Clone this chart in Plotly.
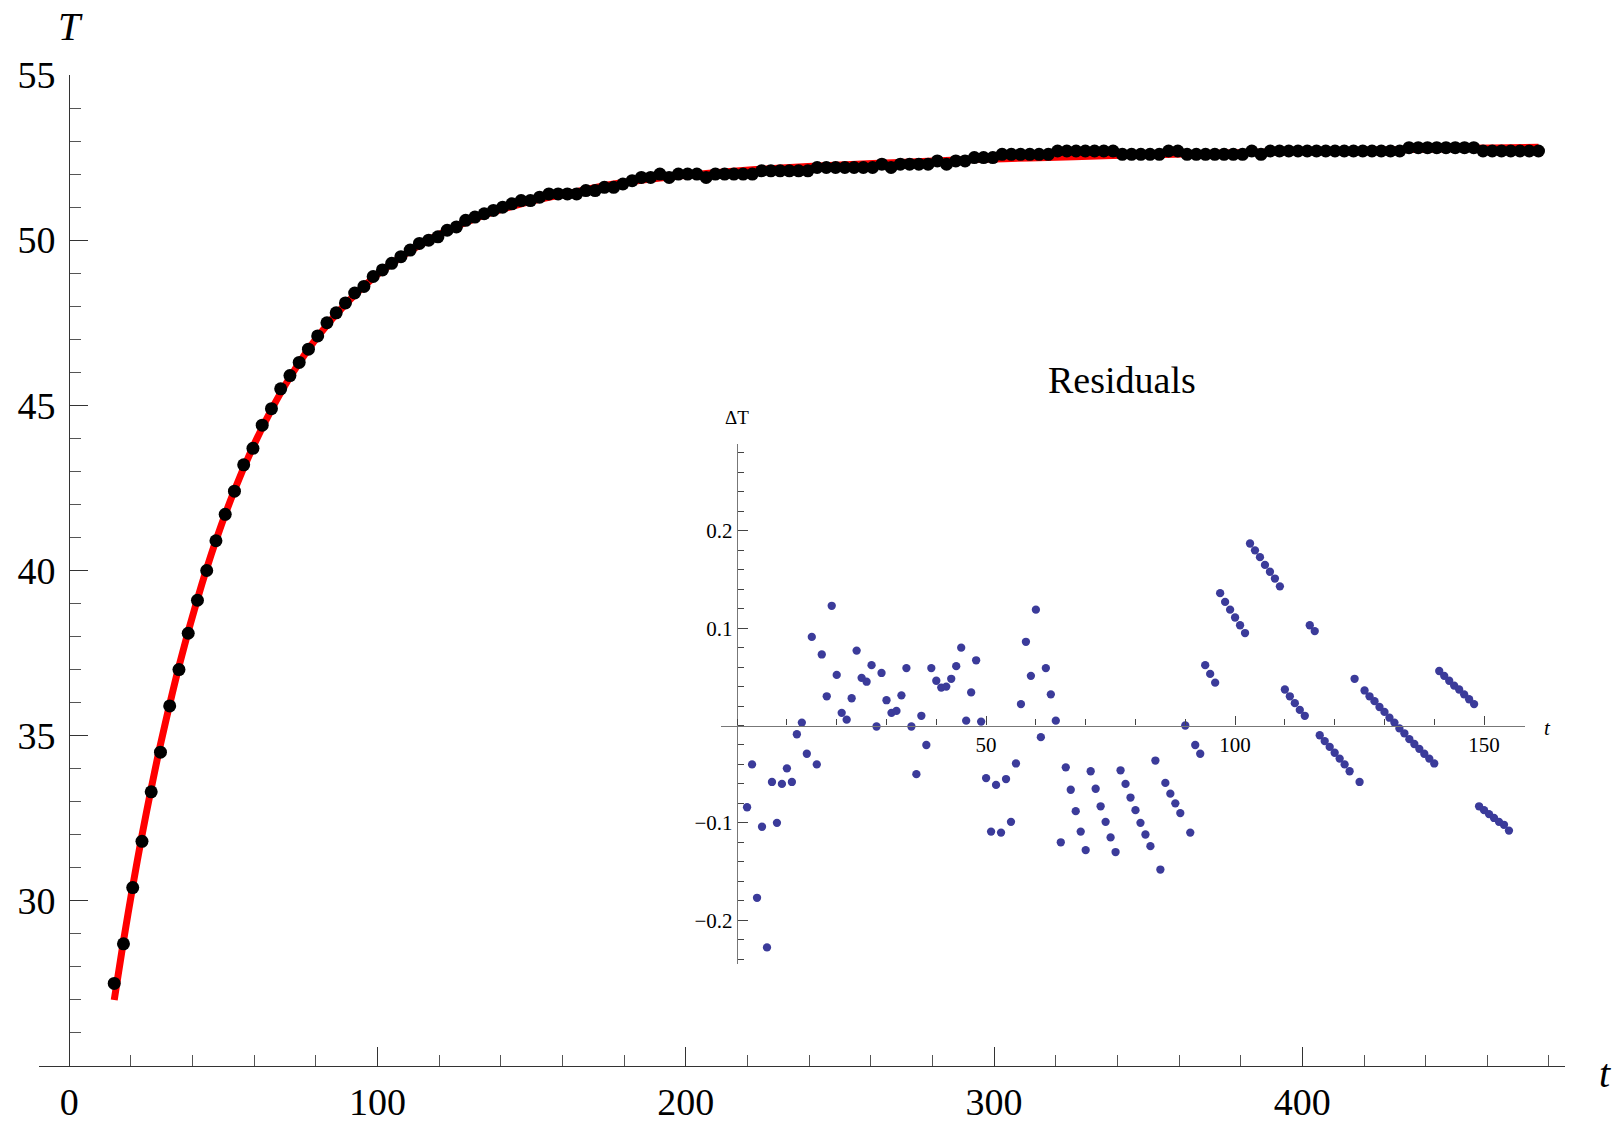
import plotly.graph_objects as go

# ---------------- data ----------------
# main measurement: sample number and temperature T
sample_no = list(range(1, 156))
t_step = 3.0
t_first = 14.6
T_data = [
    27.5, 28.7, 30.4, 31.8, 33.3, 34.5, 35.9, 37.0, 38.1, 39.1,
    40.0, 40.9, 41.7, 42.4, 43.2, 43.7, 44.4, 44.9, 45.5, 45.9,
    46.3, 46.7, 47.1, 47.5, 47.8, 48.1, 48.4, 48.6, 48.9, 49.1,
    49.3, 49.5, 49.7, 49.9, 50.0, 50.1, 50.3, 50.4, 50.6, 50.7,
    50.8, 50.9, 51.0, 51.1, 51.2, 51.2, 51.3, 51.4, 51.4, 51.4,
    51.4, 51.5, 51.5, 51.6, 51.6, 51.7, 51.8, 51.9, 51.9, 52.0,
    51.9, 52.0, 52.0, 52.0, 51.9, 52.0, 52.0, 52.0, 52.0, 52.0,
    52.1, 52.1, 52.1, 52.1, 52.1, 52.1, 52.2, 52.2, 52.2, 52.2,
    52.2, 52.2, 52.2, 52.3, 52.2, 52.3, 52.3, 52.3, 52.3, 52.4,
    52.3, 52.4, 52.4, 52.5, 52.5, 52.5, 52.6, 52.6, 52.6, 52.6,
    52.6, 52.6, 52.7, 52.7, 52.7, 52.7, 52.7, 52.7, 52.7, 52.6,
    52.6, 52.6, 52.6, 52.6, 52.7, 52.7, 52.6, 52.6, 52.6, 52.6,
    52.6, 52.6, 52.6, 52.7, 52.6, 52.7, 52.7, 52.7, 52.7, 52.7,
    52.7, 52.7, 52.7, 52.7, 52.7, 52.7, 52.7, 52.7, 52.7, 52.7,
    52.8, 52.8, 52.8, 52.8, 52.8, 52.8, 52.8, 52.8, 52.7, 52.7,
    52.7, 52.7, 52.7, 52.7, 52.7,
]
t_data = [t_first + t_step * (k - 1) for k in sample_no]

# fitted curve
fit_t = [14.6, 17.6, 20.6, 23.6, 26.6, 29.6, 35.6, 41.6, 47.6, 53.6,
         59.6, 65.6, 71.6, 80.6, 89.6, 101.6, 116.6, 131.6, 146.6, 161.6,
         176.6, 191.6, 206.6, 221.6, 239.6, 260.6, 278.6, 293.6, 311.6, 338.6,
         371.6, 401.6, 431.6, 455.6, 476.6]
fit_T = [27.0, 28.78, 30.44, 31.98, 33.40, 34.73, 37.10, 39.14, 40.91, 42.43,
         43.74, 44.87, 45.85, 47.08, 48.06, 49.08, 50.01, 50.65, 51.10, 51.41,
         51.70, 51.88, 52.02, 52.13, 52.23, 52.32, 52.39, 52.44, 52.49, 52.56,
         52.63, 52.69, 52.74, 52.78, 52.81]

# residuals (inset), index of sample
res_index = list(range(2, 156))
residuals = [
    -0.084, -0.040, -0.177, -0.104, -0.228, -0.058, -0.100, -0.060, -0.044, -0.058,
    -0.009, 0.003, -0.029, 0.091, -0.040, 0.073, 0.030, 0.123, 0.052,
    0.013, 0.006, 0.028, 0.077, 0.049, 0.045, 0.062, -0.001, 0.054, 0.026,
    0.013, 0.015, 0.031, 0.059, -0.001, -0.050, 0.010, -0.020, 0.059, 0.046,
    0.039, 0.040, 0.048, 0.061, 0.080, 0.005, 0.034, 0.067, 0.004, -0.054,
    -0.109, -0.061, -0.110, -0.055, -0.099, -0.039, 0.022, 0.086, 0.051, 0.119,
    -0.012, 0.059, 0.032, 0.005, -0.120, -0.043, -0.066, -0.088, -0.109, -0.128,
    -0.047, -0.065, -0.083, -0.099, -0.115, -0.130, -0.046, -0.060, -0.074, -0.087,
    -0.100, -0.112, -0.124, -0.036, -0.148, -0.059, -0.070, -0.080, -0.090, 0.000,
    -0.110, -0.020, -0.029, 0.062, 0.053, 0.044, 0.136, 0.127, 0.119, 0.111,
    0.103, 0.095, 0.187, 0.180, 0.173, 0.165, 0.158, 0.151, 0.143, 0.037,
    0.030, 0.023, 0.016, 0.010, 0.103, 0.097, -0.010, -0.016, -0.022, -0.028,
    -0.034, -0.040, -0.047, 0.048, -0.058, 0.036, 0.030, 0.025, 0.019, 0.014,
    0.008, 0.003, -0.003, -0.008, -0.014, -0.019, -0.024, -0.029, -0.034, -0.039,
    0.056, 0.051, 0.046, 0.041, 0.037, 0.032, 0.027, 0.022, -0.083, -0.087,
    -0.091, -0.095, -0.099, -0.102, -0.108,
]

main_xticks = [0, 100, 200, 300, 400]
main_yticks = [30, 35, 40, 45, 50, 55]
inset_xticks = [50, 100, 150]
inset_yticks = [-0.2, -0.1, 0.1, 0.2]
inset_yticktext = ["\u22120.2", "\u22120.1", "0.1", "0.2"]

# ---------------- layout geometry ----------------
W, H = 1619, 1126
OFF = 0  # body margin removed by post_script
ML, MR, MT, MB = 39.0, 54.4, 75.4, 60.0
PW = W - ML - MR
PH = H - MT - MB
FONT = "Liberation Serif"


def paper(X, Y):
    return (X - OFF - ML) / PW, (MT + PH - (Y - OFF)) / PH


fig = go.Figure()
fig.add_trace(go.Scatter(
    x=fit_t, y=fit_T, mode="lines",
    line=dict(color="#ff0000", width=7, shape="spline", smoothing=0.8),
    xaxis="x", yaxis="y", hoverinfo="skip"))
fig.add_trace(go.Scatter(
    x=t_data, y=T_data, mode="markers",
    marker=dict(color="black", size=13, line=dict(width=0)),
    xaxis="x", yaxis="y"))
fig.add_trace(go.Scatter(
    x=res_index, y=residuals, mode="markers",
    marker=dict(color="#3b3b9a", size=8.3, line=dict(width=0)),
    xaxis="x2", yaxis="y2"))

axis_col = "#333333"
inset_col = "#777777"

fig.update_layout(
    width=W, height=H, autosize=False,
    margin=dict(l=ML, r=MR, t=MT, b=MB, pad=0, autoexpand=False),
    paper_bgcolor="white", plot_bgcolor="white",
    showlegend=False,
    font=dict(family=FONT, color="black"),
    xaxis=dict(
        domain=[0, 1], range=[-9.8, 485.2], anchor="y", automargin=False,
        showline=True, linecolor=axis_col, linewidth=1,
        ticks="inside", ticklen=19, tickwidth=1, tickcolor=axis_col,
        tickmode="array", tickvals=main_xticks,
        tickfont=dict(family=FONT, size=38, color="black"),
        ticklabelstandoff=2,
        minor=dict(dtick=20, tick0=0, ticks="inside", ticklen=11,
                   tickwidth=1, tickcolor="#555555"),
        showgrid=False, zeroline=False),
    yaxis=dict(
        domain=[0, 1], range=[25, 55], anchor="free", automargin=False,
        position=(69.2 - 39) / (1564.6 - 39),
        showline=True, linecolor=axis_col, linewidth=1,
        ticks="inside", ticklen=18, tickwidth=1, tickcolor=axis_col,
        tickmode="array", tickvals=main_yticks,
        tickfont=dict(family=FONT, size=38, color="black"),
        ticklabelstandoff=6,
        minor=dict(dtick=1, tick0=0, ticks="inside", ticklen=11,
                   tickwidth=1, tickcolor="#555555"),
        showgrid=False, zeroline=False),
    xaxis2=dict(
        domain=[paper(721, 0)[0], paper(1525, 0)[0]], range=[-3.2, 158.3],
        anchor="free", position=paper(0, 725.7)[1], automargin=False,
        showline=True, linecolor=inset_col, linewidth=1.3,
        ticks="inside", ticklen=9, tickwidth=1, tickcolor="#444444",
        tickmode="array", tickvals=inset_xticks,
        tickfont=dict(family=FONT, size=21, color="black"),
        minor=dict(dtick=10, tick0=0, ticks="inside", ticklen=6,
                   tickwidth=1, tickcolor="#444444"),
        showgrid=False, zeroline=False),
    yaxis2=dict(
        domain=[paper(0, 964)[1], paper(0, 444)[1]], range=[-0.245, 0.2895],
        anchor="free", position=paper(736.7, 0)[0], automargin=False,
        showline=True, linecolor=inset_col, linewidth=1.3,
        ticks="inside", ticklen=10, tickwidth=1, tickcolor="#444444",
        tickmode="array", tickvals=inset_yticks, ticktext=inset_yticktext,
        tickfont=dict(family=FONT, size=21, color="black"),
        minor=dict(dtick=0.02, tick0=0, ticks="inside", ticklen=6,
                   tickwidth=1, tickcolor="#444444"),
        showgrid=False, zeroline=False),
)

labels = [
    ("<i>T</i>", 70, 27, 40),
    ("<i>t</i>", 1605, 1073, 40),
    ("Residuals", 1122, 380, 38),
    ("\u0394T", 737, 418, 19),
    ("<i>t</i>", 1547, 728, 21),
]
for txt, X, Y, size in labels:
    fx, fy = paper(X, Y)
    fig.add_annotation(text=txt, x=fx, y=fy, xref="paper", yref="paper",
                       showarrow=False, xanchor="center", yanchor="middle",
                       font=dict(family=FONT, size=size, color="black"))

fig.write_html(
    "out.html",
    config={"displayModeBar": False},
    post_script="document.body.style.margin='0';document.body.style.overflow='hidden';",
)
